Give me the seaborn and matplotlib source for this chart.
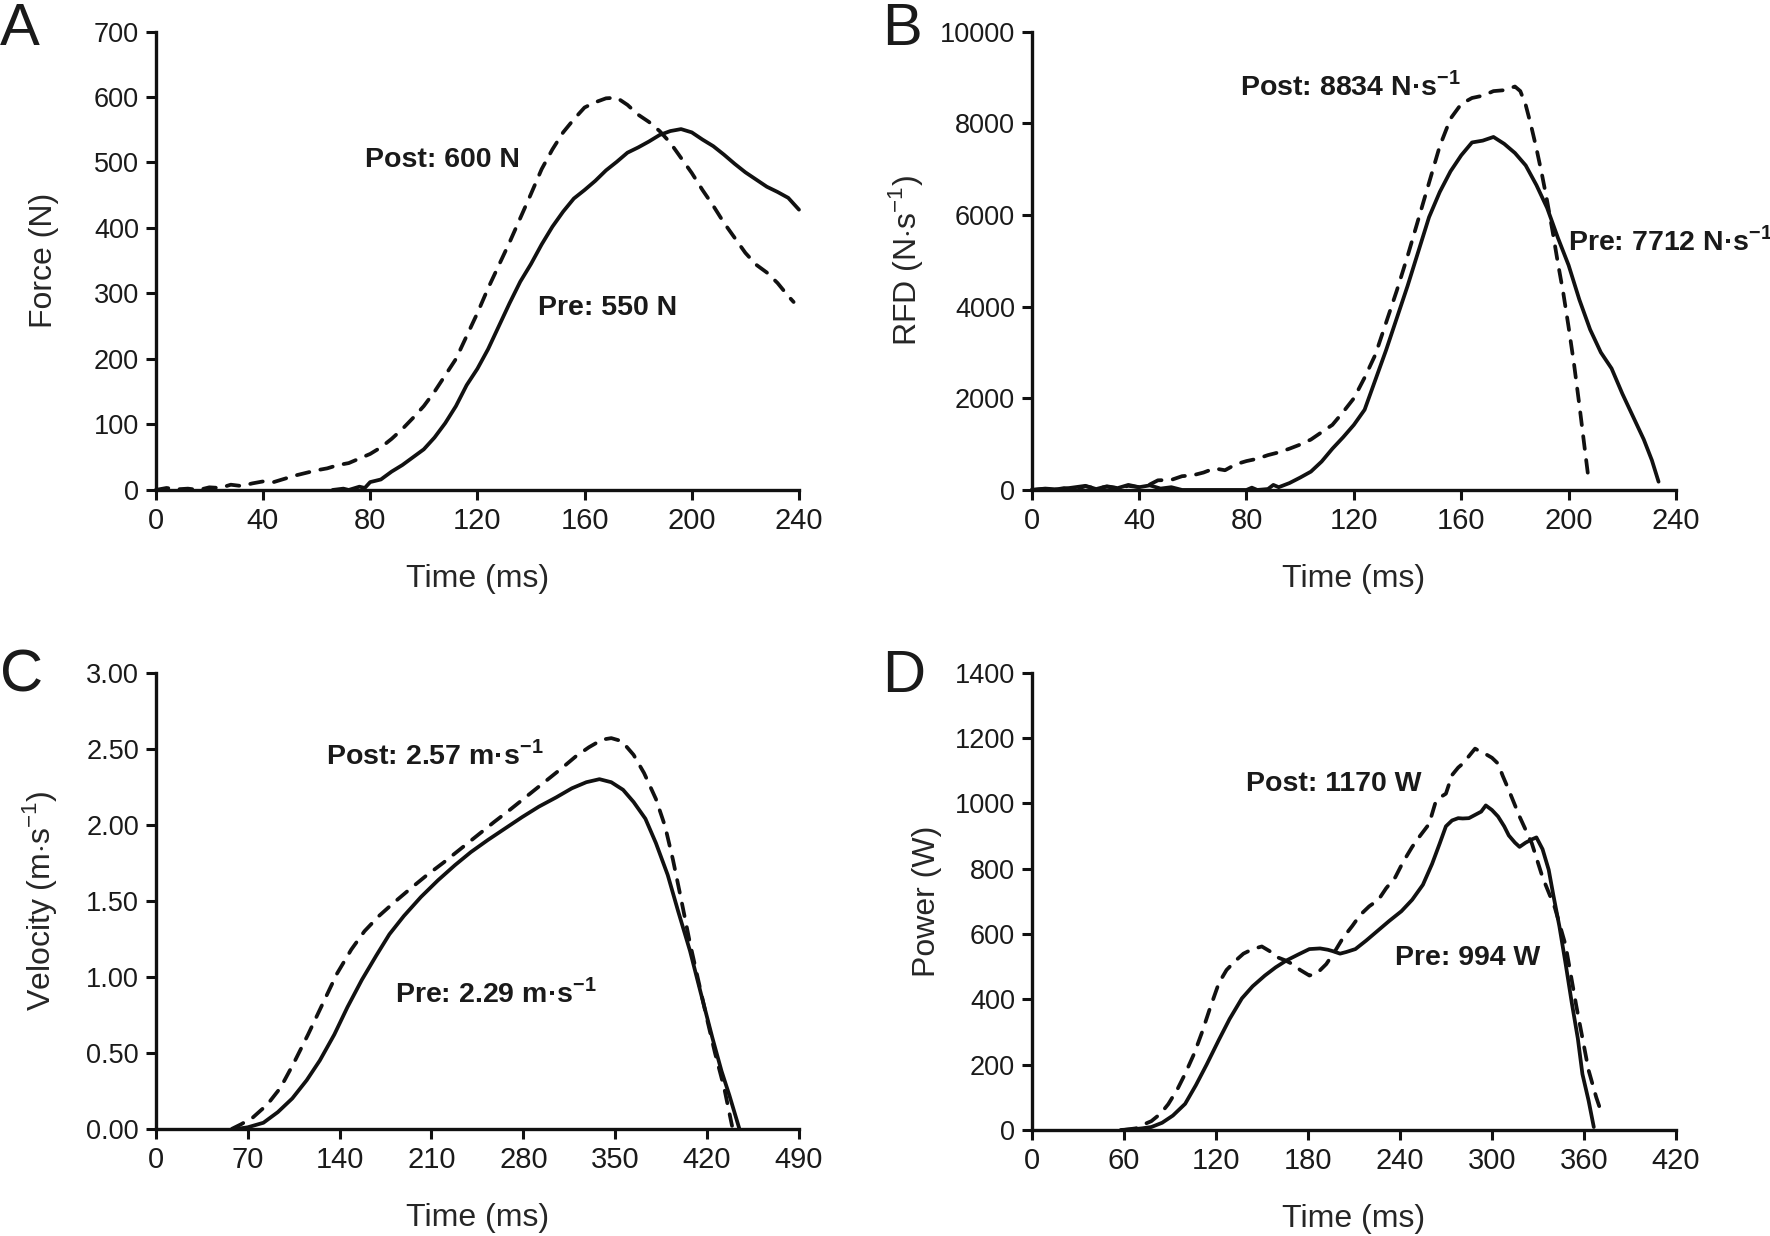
import numpy as np
import pandas as pd
import matplotlib
matplotlib.use("Agg")
import matplotlib.pyplot as plt
import seaborn as sns

# ---- Data ----
# A: force (N)
force_t_post = [0, 4, 8, 12, 16, 20, 24, 28, 32, 36, 40, 44, 48, 52, 56, 60, 64, 68, 72, 76, 80,
                84, 88, 92, 96, 100, 104, 108, 112, 116, 120, 124, 128, 132, 136, 140, 144, 148,
                152, 156, 160, 164, 168, 172, 176, 180, 184, 188, 192, 196, 200, 204, 208, 212,
                216, 220, 224, 228, 232, 236, 238]
force_post = [0, 3, 1, 2, 0, 4, 3, 8, 6, 10, 13, 12, 17, 22, 26, 30, 33, 38, 41, 48, 55,
              65, 78, 93, 110, 128, 150, 175, 200, 235, 270, 308, 343, 378, 415, 452, 490, 520,
              546, 566, 584, 592, 598, 599, 588, 573, 562, 548, 530, 507, 484, 458, 434, 408,
              385, 362, 344, 332, 316, 296, 287]
force_t_pre = [66, 70, 72, 76, 78, 80, 84, 88, 92, 96, 100, 104, 108, 112, 116, 120, 124, 128,
               132, 136, 140, 144, 148, 152, 156, 160, 164, 168, 172, 176, 180, 184, 188, 192,
               196, 200, 204, 208, 212, 216, 220, 224, 228, 232, 236, 240]
force_pre = [0, 2, 0, 5, 3, 12, 16, 28, 38, 50, 62, 80, 102, 128, 160, 185, 215, 250,
             285, 318, 345, 375, 402, 425, 445, 458, 472, 488, 501, 515, 523, 532, 542, 548,
             551, 546, 535, 525, 512, 498, 485, 474, 463, 455, 446, 428]

# B: rate of force development (N/s)
rfd_t_post = [0, 4, 8, 12, 16, 20, 24, 28, 32, 36, 40, 44, 47, 52, 56, 60, 64, 68, 72, 76, 80,
              84, 88, 92, 96, 100, 104, 108, 112, 116, 120, 124, 128, 132, 136, 140, 144, 148,
              152, 156, 160, 164, 168, 172, 176, 180, 182, 184, 186, 188, 190, 192, 194, 196,
              198, 200, 202, 204, 206, 207.5]
rfd_post = [0, 20, 0, 40, 10, 80, 30, 70, 40, 90, 60, 120, 210, 220, 300, 320, 380, 470, 430,
            560, 630, 680, 760, 820, 900, 990, 1100, 1260, 1420, 1700, 2000, 2450, 2950, 3650,
            4350, 5100, 5900, 6700, 7500, 8100, 8420, 8550, 8600, 8700, 8720, 8800, 8700, 8400,
            7950, 7450, 6900, 6300, 5650, 4950, 4300, 3550, 2750, 1850, 900, 200]
rfd_t_pre = [0, 5, 10, 15, 20, 24, 28, 32, 36, 40, 44, 48, 52, 56, 80, 82, 84, 88, 90, 92, 96,
             100, 104, 108, 112, 116, 120, 124, 128, 132, 136, 140, 144, 148, 152, 156, 160,
             164, 168, 172, 176, 180, 184, 188, 192, 196, 200, 204, 208, 212, 216, 220, 224,
             228, 231, 233.5]
rfd_pre = [0, 30, 10, 50, 90, 20, 80, 40, 110, 60, 100, 30, 60, 0, 0, 50, 0, 20, 110, 60, 150,
           270, 400, 620, 900, 1150, 1420, 1750, 2400, 3050, 3750, 4450, 5200, 5950, 6500,
           6950, 7300, 7580, 7620, 7700, 7550, 7350, 7080, 6650, 6150, 5500, 4900, 4150, 3500,
           3000, 2650, 2100, 1600, 1100, 650, 180]

# C: velocity (m/s)
vel_t_post = [58, 65, 74, 85, 95, 105, 116, 127, 138, 149, 159, 170, 181, 194, 206, 219, 232,
              245, 258, 270, 283, 296, 309, 320, 330, 340, 347, 355, 364, 372, 381, 388, 394,
              400, 407, 414, 420, 426, 433, 439]
vel_post = [0, 0.03, 0.075, 0.16, 0.27, 0.43, 0.62, 0.82, 1.02, 1.18, 1.30, 1.40, 1.485, 1.58,
            1.665, 1.75, 1.84, 1.93, 2.02, 2.10, 2.19, 2.28, 2.37, 2.45, 2.51, 2.56, 2.57, 2.55,
            2.46, 2.34, 2.17, 1.99, 1.77, 1.52, 1.22, 0.95, 0.72, 0.50, 0.27, 0.02]
vel_t_pre = [62, 70, 82, 93, 104, 115, 125, 136, 146, 157, 168, 178, 189, 202, 215, 228, 240,
             253, 266, 279, 292, 305, 317, 328, 338, 347, 356, 364, 373, 381, 390, 398, 407,
             415, 424, 431, 437, 444.6]
vel_pre = [0, 0.01, 0.04, 0.11, 0.2, 0.32, 0.45, 0.62, 0.80, 0.98, 1.14, 1.28, 1.40, 1.525,
           1.635, 1.735, 1.82, 1.90, 1.975, 2.05, 2.12, 2.18, 2.24, 2.28, 2.30, 2.28, 2.23, 2.15,
           2.04, 1.88, 1.67, 1.43, 1.17, 0.90, 0.60, 0.38, 0.22, 0]

# D: power (W)
pow_t_post = [60, 68, 72, 78, 84, 89, 95, 100, 106, 111, 116, 122, 127, 133, 138, 144, 150, 155,
              159, 165, 170, 175, 181, 186, 192, 198, 203, 209, 214, 220, 226, 231, 237, 242,
              248, 253, 259, 263, 266, 270, 274, 278, 281, 285, 289, 292, 296, 300, 304, 307,
              311, 318, 326, 333, 341, 348, 355, 363, 368, 372]
pow_post = [0, 5, 15, 27, 50, 79, 125, 172, 235, 299, 370, 450, 490, 519, 540, 554, 562, 548,
            531, 520, 508, 490, 473, 480, 508, 550, 589, 625, 658, 685, 705, 740, 774, 820,
            867, 900, 937, 1000, 1018, 1030, 1087, 1110, 1122, 1145, 1168, 1160, 1151, 1140,
            1122, 1085, 1041, 960, 878, 774, 681, 566, 380, 183, 100, 44]
pow_t_pre = [58, 66, 72, 78, 85, 92, 100, 107, 114, 122, 129, 137, 144, 152, 159, 166, 174, 181,
             188, 193, 196, 201, 205, 211, 218, 226, 233, 241, 248, 255, 261, 266, 270, 274,
             278, 281, 285, 289, 293, 296, 300, 304, 308, 311, 315, 318, 322, 326, 329, 333,
             337, 340, 344, 348, 352, 356, 359, 363, 366.4]
pow_pre = [0, 2, 5, 9, 22, 44, 80, 137, 200, 276, 340, 403, 440, 473, 498, 519, 538, 554,
           556, 552, 548, 540, 545, 554, 580, 612, 640, 670, 705, 751, 815, 878, 930, 948,
           955, 954, 955, 965, 975, 994, 980, 960, 930, 902, 880, 867, 880, 890, 896, 860,
           797, 720, 623, 510, 391, 280, 171, 90, 9]

# ---- Style ----
sns.set_style("ticks")
plt.rcParams['font.family'] = ['Liberation Sans', 'DejaVu Sans']
plt.rcParams['mathtext.fontset'] = 'custom'
plt.rcParams['mathtext.rm'] = 'Liberation Sans'
plt.rcParams['mathtext.bf'] = 'Liberation Sans:bold'
plt.rcParams['text.color'] = '#1a1a1a'

LW = 2.7
DASH = (0, (3.4, 3.0))

fig = plt.figure(figsize=(17.7, 12.36), dpi=100)
boxes = {
    'A': [0.088, 0.6036, 0.3634, 0.3709],
    'B': [0.5829, 0.6036, 0.3640, 0.3709],
    'C': [0.088, 0.0867, 0.3634, 0.3690],
    'D': [0.5829, 0.0858, 0.3640, 0.3698],
}

panels = [
    ('A', force_t_post, force_post, force_t_pre, force_pre, 240, 40, 700, 100, '{:.0f}',
     'Force (N)', -0.150,
     [('Post: 600 N', 78, 493), ('Pre: 550 N', 142.8, 267)]),
    ('B', rfd_t_post, rfd_post, rfd_t_pre, rfd_pre, 240, 40, 10000, 2000, '{:.0f}',
     r'RFD (N$\cdot$s$^{-1}$)', -0.166,
     [(r'Post: 8834 N·s$^{\mathbf{-1}}$', 77.6, 8617),
      (r'Pre: 7712 N·s$^{\mathbf{-1}}$', 199.8, 5222)]),
    ('C', vel_t_post, vel_post, vel_t_pre, vel_pre, 490, 70, 3.0, 0.5, '{:.2f}',
     r'Velocity (m$\cdot$s$^{-1}$)', -0.150,
     [(r'Post: 2.57 m·s$^{\mathbf{-1}}$', 129.9, 2.399),
      (r'Pre: 2.29 m·s$^{\mathbf{-1}}$', 182.3, 0.832)]),
    ('D', pow_t_post, pow_post, pow_t_pre, pow_pre, 420, 60, 1400, 200, '{:.0f}',
     'Power (W)', -0.140,
     [('Post: 1170 W', 139.9, 1037), ('Pre: 994 W', 237.1, 504.7)]),
]

for (letter, tpost, ypost, tpre, ypre, xmax, xstep, ymax, ystep, yfmt,
     ylabel, ylab_x, notes) in panels:
    ax = fig.add_axes(boxes[letter])
    post = pd.DataFrame({'t': tpost, 'v': ypost})
    pre = pd.DataFrame({'t': tpre, 'v': ypre})
    sns.lineplot(data=post, x='t', y='v', ax=ax, color='#111111', lw=LW,
                 linestyle=DASH, dash_capstyle='round', solid_capstyle='round',
                 estimator=None, clip_on=False)
    sns.lineplot(data=pre, x='t', y='v', ax=ax, color='#111111', lw=LW,
                 solid_capstyle='round', estimator=None, clip_on=False)
    ax.set_xlim(0, xmax)
    ax.set_ylim(0, ymax)
    ax.set_xticks(np.arange(0, xmax + 0.1, xstep))
    yt = np.arange(0, ymax + ystep / 2, ystep)
    ax.set_yticks(yt)
    ax.set_yticklabels([yfmt.format(v) for v in yt])
    sns.despine(ax=ax)
    for s in ['left', 'bottom']:
        ax.spines[s].set_linewidth(2.4)
        ax.spines[s].set_color('#111111')
    ax.tick_params(axis='both', direction='out', length=7, width=2.2, color='#111111',
                   labelcolor='#1a1a1a', pad=5)
    ax.tick_params(axis='x', labelsize=21)
    ax.tick_params(axis='y', labelsize=19.5)
    ax.set_xlabel('Time (ms)', fontsize=23)
    ax.set_ylabel(ylabel, fontsize=23)
    ax.xaxis.set_label_coords(0.5, -0.162)
    ax.yaxis.set_label_coords(ylab_x, 0.5)
    for txt, x, y in notes:
        ax.text(x, y, txt, fontsize=20.5, fontweight='bold', ha='left', va='baseline',
                clip_on=False)

fig.text(0.0, 0.9985, 'A', fontsize=43, ha='left', va='top')
fig.text(0.4983, 0.9985, 'B', fontsize=43, ha='left', va='top')
fig.text(0.0, 0.475, 'C', fontsize=43, ha='left', va='top')
fig.text(0.4983, 0.475, 'D', fontsize=43, ha='left', va='top')

fig.savefig('out.png', dpi=100)
